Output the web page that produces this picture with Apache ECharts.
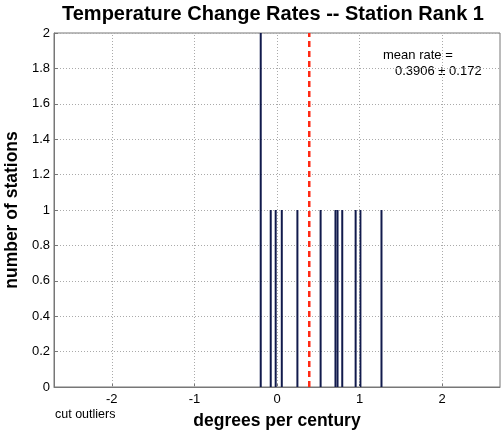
<!DOCTYPE html>
<html>
<head>
<meta charset="utf-8">
<script src="https://cdn.jsdelivr.net/npm/echarts@6/dist/echarts.min.js"></script>
<style>html,body{margin:0;padding:0;background:#fff;}#c{width:502px;height:434px;}</style>
</head>
<body>
<div id="c"></div>
<script>
// Data
const rates  = [-0.197, -0.076, -0.016, 0.058, 0.247, 0.528, 0.708, 0.733, 0.790, 0.952, 1.010, 1.265];
const counts = [2, 1, 1, 1, 1, 1, 1, 1, 1, 1, 1, 1];
const meanRate = 0.3906;
const meanErr = 0.172;
const xTicks = [-2, -1, 0, 1, 2];
const yTicks = [0, 0.2, 0.4, 0.6, 0.8, 1, 1.2, 1.4, 1.6, 1.8, 2];

const FONT = '"Liberation Sans", Arial, Helvetica, sans-serif';
const chart = echarts.init(document.getElementById('c'), null, {renderer: 'canvas'});

const barData = rates.map((r, i) => [r, counts[i]]);

chart.setOption({
  animation: false,
  backgroundColor: '#fff',
  grid: {left: 54, right: 2, top: 33, bottom: 47, outerBoundsMode: 'none', containLabel: false,
    show: true, borderColor: '#777', borderWidth: 1, backgroundColor: '#fff'},
  xAxis: {
    type: 'value', min: -2.7, max: 2.7,
    name: 'degrees per century', nameLocation: 'middle', nameGap: 25,
    nameTextStyle: {fontFamily: FONT, fontSize: 17.5, fontWeight: 'bold', color: '#000'},
    axisLine: {show: true, onZero: false, lineStyle: {color: '#777'}},
    axisTick: {show: true, inside: true, length: 4, customValues: xTicks, lineStyle: {color: '#777'}},
    axisLabel: {customValues: xTicks, fontFamily: FONT, fontSize: 13, color: '#000', margin: 6},
    splitLine: {show: false}
  },
  yAxis: {
    type: 'value', min: 0, max: 2, interval: 0.2,
    name: 'number of stations', nameLocation: 'middle', nameGap: 29,
    nameTextStyle: {fontFamily: FONT, fontSize: 17.5, fontWeight: 'bold', color: '#000'},
    axisLine: {show: true, onZero: false, lineStyle: {color: '#777'}},
    axisTick: {show: true, inside: true, length: 4, lineStyle: {color: '#777'}},
    axisLabel: {fontFamily: FONT, fontSize: 13, color: '#000', margin: 4,
      formatter: v => String(Math.round(v * 10) / 10)},
    splitLine: {show: true, lineStyle: {color: '#aaa', type: [1, 2], width: 1}}
  },
  graphic: [
    {type: 'text', left: 62, top: 4, style: {text: 'Temperature Change Rates -- Station Rank 1', font: 'bold 20px ' + FONT, fill: '#000'}},
    {type: 'text', left: 383, top: 49, style: {text: 'mean rate =', font: '13px ' + FONT, fill: '#000'}},
    {type: 'text', left: 395, top: 65, style: {text: meanRate.toFixed(4) + ' \u00b1 ' + meanErr.toFixed(3), font: '13px ' + FONT, fill: '#000'}},
    {type: 'text', left: 55, top: 408, style: {text: 'cut outliers', font: '12.5px ' + FONT, fill: '#000'}}
  ],
  series: [
    {
      type: 'line', data: [], silent: true,
      markLine: {
        silent: true, symbol: 'none', label: {show: false},
        lineStyle: {color: '#aaa', type: [1, 2], width: 1},
        data: xTicks.map(t => ({xAxis: t}))
      }
    },
    {
      type: 'bar', data: barData, barWidth: 2, barGap: '-100%',
      itemStyle: {color: '#111a4c'}
    },
    {
      type: 'line', data: [[meanRate, 0], [meanRate, 2]], symbol: 'none',
      lineStyle: {color: '#ff2a14', width: 2.5, type: [6, 4]}
    }
  ]
});
</script>
</body>
</html>
